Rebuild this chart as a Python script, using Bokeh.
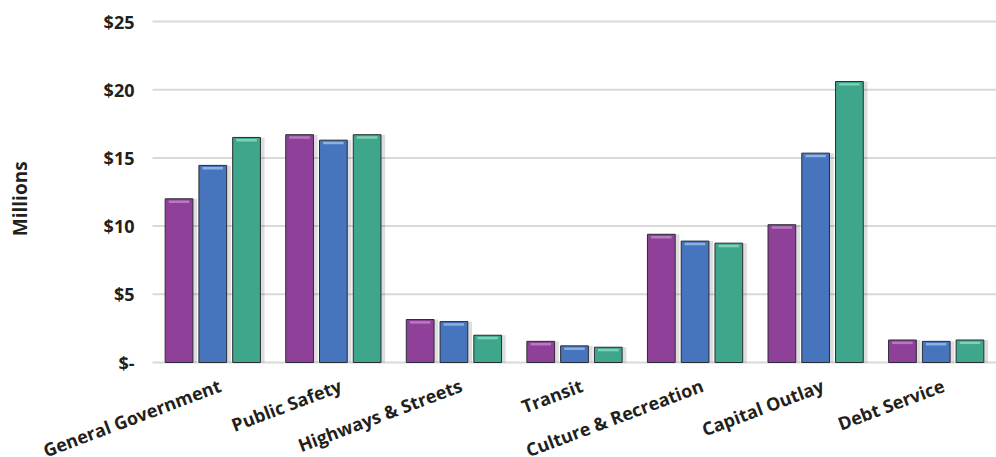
import math
from bokeh.plotting import figure
from bokeh.models import ColumnDataSource, Range1d, FixedTicker
from bokeh.core.properties import value
from bokeh.transform import dodge
from bokeh.embed import file_html
from bokeh.resources import INLINE

categories = ["General Government", "Public Safety", "Highways & Streets", "Transit",
              "Culture & Recreation", "Capital Outlay", "Debt Service"]
series_a = [12.0, 16.7, 3.15, 1.55, 9.4, 10.1, 1.65]
series_b = [14.45, 16.3, 3.0, 1.22, 8.9, 15.35, 1.55]
series_c = [16.5, 16.7, 2.0, 1.12, 8.75, 20.6, 1.65]
y_ticks = [0, 5, 10, 15, 20, 25]
y_tick_labels = ["$-", "$5", "$10", "$15", "$20", "$25"]
y_title = "Millions"

FONT = "Open Sans"
TXT = "#231f20"

n = len(categories)
data = dict(cat=categories, pos=[i + 0.5 for i in range(n)],
            a=series_a, b=series_b, c=series_c)
for k in ("a", "b", "c"):
    data[k + "_hi_top"] = [v - 0.12 for v in data[k]]
    data[k + "_hi_bot"] = [v - 0.3 for v in data[k]]
src = ColumnDataSource(data)

# layout geometry (pixels)
W, H = 996, 457
LEFT, TOP, BOTTOM = 152, 21, 95
px_per_cat = (W - LEFT) / n
px_per_unit = (H - TOP - BOTTOM) / 25.0

p = figure(x_range=Range1d(-LEFT / px_per_cat, n),
           y_range=Range1d(-BOTTOM / px_per_unit, 25 + TOP / px_per_unit),
           width=W, height=H, output_backend="svg", toolbar_location=None,
           min_border_left=0, min_border_right=0, min_border_top=0, min_border_bottom=0)

colors = ["#8f4199", "#4674bd", "#3ea68b"]
highlights = ["#c08ac6", "#9dc0ec", "#8fdcc4"]
offsets = [-0.28, 0.0, 0.28]

p.outline_line_color = None
p.background_fill_color = "white"
p.border_fill_color = "white"
p.xgrid.grid_line_color = None
p.ygrid.grid_line_color = None
p.xaxis.visible = False

p.yaxis.ticker = FixedTicker(ticks=y_ticks)
p.yaxis.fixed_location = 0
p.yaxis.major_label_overrides = {t: l for t, l in zip(y_ticks, y_tick_labels)}
p.yaxis.axis_line_color = None
p.yaxis.major_tick_line_color = None
p.yaxis.minor_tick_line_color = None
p.yaxis.major_label_text_font = FONT
p.yaxis.major_label_text_font_style = "bold"
p.yaxis.major_label_text_font_size = "18px"
p.yaxis.major_label_text_color = TXT
p.yaxis.major_label_standoff = 12

# horizontal grid lines over the category area only
p.segment(x0=0, x1=n, y0=y_ticks, y1=y_ticks, line_color="#d9d9d9", line_width=2)

# soft shadows
for col, off in zip(["a", "b", "c"], offsets):
    p.vbar(x=dodge("pos", off + 0.035), top=col, width=0.23, source=src,
           fill_color="black", fill_alpha=0.13, line_color=None)
for col, color, hi, off in zip(["a", "b", "c"], colors, highlights, offsets):
    p.vbar(x=dodge("pos", off), top=col, width=0.23, source=src,
           fill_color=color, line_color="#2b2b33", line_width=1)
    p.vbar(x=dodge("pos", off), top=col + "_hi_top", bottom=col + "_hi_bot",
           width=0.17, source=src, fill_color=hi, fill_alpha=0.8, line_color=None)

# category labels below the zero line
p.text(x="pos", y=-0.8, text="cat", source=src, angle=0.36, x_offset=3,
       text_align="right", text_baseline="top", text_font=value(FONT),
       text_font_style="bold", text_font_size="18px", text_color=TXT)

# vertical axis title
p.text(x=[-1.1], y=[12.0], text=[y_title], angle=math.pi / 2,
       text_align="center", text_baseline="middle", text_font=value(FONT),
       text_font_style="bold", text_font_size="19px", text_color=TXT)

open("out.html", "w").write(file_html(p, INLINE))
